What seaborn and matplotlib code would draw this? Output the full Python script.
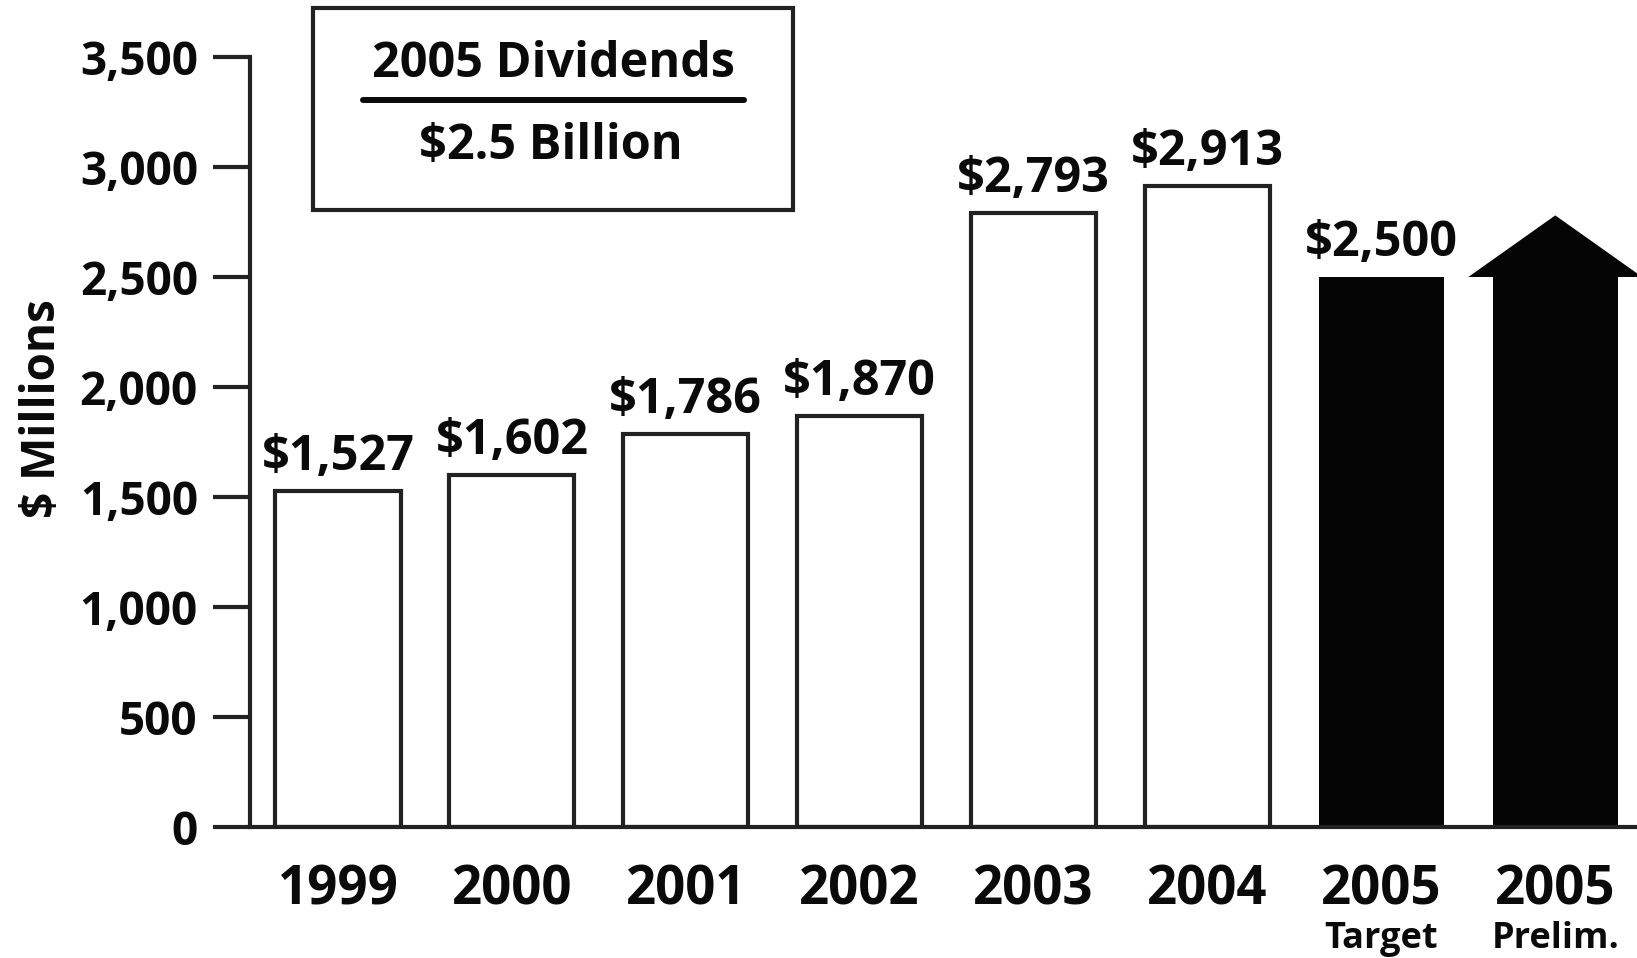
import matplotlib
matplotlib.use("Agg")
import matplotlib.pyplot as plt
from matplotlib.patches import Polygon, Rectangle
from matplotlib.lines import Line2D
import seaborn as sns
import pandas as pd

# Dividend data ($ millions)
categories = ["1999", "2000", "2001", "2002", "2003", "2004", "2005 Target", "2005 Prelim."]
tick_years = ["1999", "2000", "2001", "2002", "2003", "2004", "2005", "2005"]
sub_labels = ["", "", "", "", "", "", "Target", "Prelim."]
values = [1527, 1602, 1786, 1870, 2793, 2913, 2500, 2500]
value_labels = ["$1,527", "$1,602", "$1,786", "$1,870", "$2,793", "$2,913", "$2,500", ""]
yticks = [0, 500, 1000, 1500, 2000, 2500, 3000, 3500]
ytick_labels = ["0", "500", "1,000", "1,500", "2,000", "2,500", "3,000", "3,500"]
box_title = "2005 Dividends"
box_value = "$2.5 Billion"

sns.set_style("white")
plt.rcParams["font.family"] = ["Open Sans", "DejaVu Sans"]
plt.rcParams["font.weight"] = "bold"

INK = "#0a0a0a"
LINE = "#222222"

df = pd.DataFrame({"cat": categories, "val": values})
fills = ["white"] * 6 + ["#050505", "#050505"]

fig = plt.figure(figsize=(16.37, 9.58), dpi=100)
ax = fig.add_axes([250 / 1637, 1 - 827 / 958, 1 - 250 / 1637, (827 - 57) / 958])

sns.barplot(data=df, x="cat", y="val", hue="cat", palette=fills, legend=False,
            width=0.72, edgecolor=LINE, linewidth=3.0, ax=ax, saturation=1)

# Dark bars are solid, without an outline
for patch, fc in zip(ax.patches, fills):
    if fc != "white":
        patch.set_edgecolor(fc)
        patch.set_linewidth(0)

# Arrow head on the preliminary bar
head_half = 0.5
head_height = 280
xi = len(values) - 1
v = values[-1]
head = Polygon([[xi - head_half, v], [xi, v + head_height], [xi + head_half, v]],
               closed=True, facecolor="#050505", edgecolor="none", clip_on=False)
ax.add_patch(head)

ax.set_xlim(-0.506, 7.47)
ax.set_ylim(0, 3500)
ax.set_yticks(yticks)
ax.set_yticklabels(ytick_labels)
ax.set_xticks(range(len(tick_years)))
ax.set_xticklabels(tick_years)
ax.set_xlabel("")
ax.set_ylabel("$ Millions", fontsize=33, fontweight="bold", color=INK)
ax.yaxis.set_label_coords(-0.133, 0.544)

for side in ["top", "right"]:
    ax.spines[side].set_visible(False)
for side in ["left", "bottom"]:
    ax.spines[side].set_linewidth(3.0)
    ax.spines[side].set_color(LINE)

ax.tick_params(axis="y", which="major", direction="out", length=26.5, width=3.0,
               color=LINE, pad=11, labelsize=33, labelcolor=INK, left=True)
ax.tick_params(axis="x", which="major", length=0, pad=26, labelsize=38, labelcolor=INK)
for lab in ax.get_xticklabels() + ax.get_yticklabels():
    lab.set_fontweight("bold")

# Sub-labels beneath the 2005 ticks
for i, s in enumerate(sub_labels):
    if s:
        ax.annotate(s, xy=(i, 0), xycoords=("data", "axes fraction"),
                    xytext=(0, -87), textcoords="offset points",
                    ha="center", va="baseline", fontsize=26, fontweight="bold", color=INK,
                    annotation_clip=False)

# Value labels above bars
for i, (val, lab) in enumerate(zip(values, value_labels)):
    if lab:
        ax.annotate(lab, xy=(i, val), xytext=(0, 15), textcoords="offset points",
                    ha="center", va="baseline", fontsize=35, fontweight="bold", color=INK)

# Summary box
fig.add_artist(Rectangle((313 / 1637, 1 - 210 / 958), (793 - 313) / 1637, (210 - 8) / 958,
                         transform=fig.transFigure, facecolor="white",
                         edgecolor=LINE, linewidth=3.0))
fig.add_artist(Line2D([363 / 1637, 744 / 1637], [1 - 100 / 958, 1 - 100 / 958],
                      transform=fig.transFigure, color=INK, linewidth=4.3))
fig.text(554 / 1637, 1 - 77 / 958, box_title, ha="center", va="baseline",
         fontsize=35, fontweight="bold", color=INK)
fig.text(551 / 1637, 1 - 159 / 958, box_value, ha="center", va="baseline",
         fontsize=35, fontweight="bold", color=INK)

fig.savefig("out.png", dpi=100)
